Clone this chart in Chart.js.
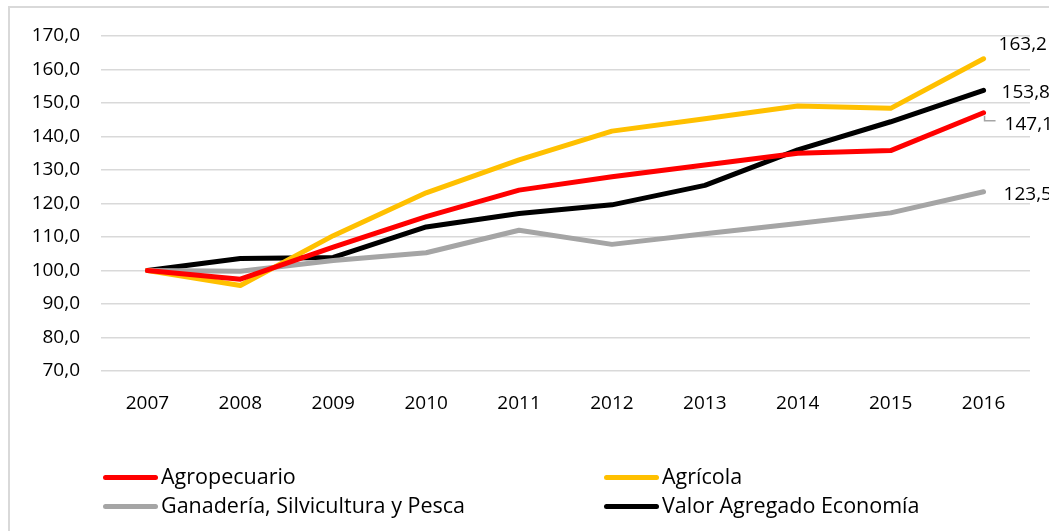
<!DOCTYPE html>
<html>
<head>
<meta charset="utf-8">
<script src="https://cdn.jsdelivr.net/npm/chart.js@4/dist/chart.umd.min.js"></script>
<style>
  html, body { margin: 0; padding: 0; background: #fff; }
  #wrap { position: relative; width: 1049px; height: 531px; overflow: hidden; }
  #frame { position: absolute; left: 8px; top: 6px; width: 1100px; height: 600px; border-left: 2px solid #d9d9d9; border-top: 2px solid #d9d9d9; box-sizing: border-box; }
  canvas { position: absolute; left: 0; top: 0; }
  .leg { position: absolute; font-family: "Open Sans", sans-serif; font-size: 21.5px; color: #000; white-space: nowrap; line-height: 1; }
</style>
</head>
<body>
<div id="wrap">
  <div id="frame"></div>
  <canvas id="c" width="1049" height="531"></canvas>
  <div id="legend"></div>
</div>
<script>
const categories = ["2007","2008","2009","2010","2011","2012","2013","2014","2015","2016"];
const seriesNames = ["Agropecuario","Agrícola","Ganadería, Silvicultura y Pesca","Valor Agregado Economía"];
const agropecuario = [100.0, 97.4, 107.0, 116.1, 124.0, 128.0, 131.5, 135.0, 135.8, 147.1];
const agricola     = [100.0, 95.5, 110.4, 123.2, 133.0, 141.6, 145.3, 149.1, 148.4, 163.2];
const ganaderia    = [100.0, 99.8, 103.0, 105.3, 112.0, 107.8, 111.0, 114.0, 117.2, 123.5];
const valorAgregado= [100.0, 103.6, 103.9, 113.0, 117.0, 119.6, 125.4, 136.0, 144.4, 153.8];
const colors = ["#FF0000","#FFC000","#A5A5A5","#000000"];
const yTicks = [70,80,90,100,110,120,130,140,150,160,170];

const seriesData = [agropecuario, agricola, ganaderia, valorAgregado];
const fmt = v => v.toFixed(1).replace('.', ',');

// end labels: offsets relative to last point
const endLabelOffsets = [[21, 12], [15, -14], [20, 3], [18, 2]];

const endLabels = {
  id: 'endLabels',
  afterDatasetsDraw(chart) {
    const ctx = chart.ctx;
    ctx.save();
    ctx.font = '19px "Open Sans", sans-serif';
    ctx.fillStyle = '#000';
    ctx.textBaseline = 'middle';
    ctx.textAlign = 'left';
    chart.data.datasets.forEach((ds, i) => {
      const meta = chart.getDatasetMeta(i);
      const pt = meta.data[meta.data.length - 1];
      const v = ds.data[ds.data.length - 1];
      const [dx, dy] = endLabelOffsets[i];
      if (i === 0) {
        ctx.strokeStyle = '#A5A5A5';
        ctx.lineWidth = 1.5;
        ctx.beginPath();
        ctx.moveTo(pt.x + 1, pt.y + 3);
        ctx.lineTo(pt.x + 1, pt.y + 8);
        ctx.lineTo(pt.x + 12, pt.y + 8);
        ctx.stroke();
      }
      ctx.fillText(fmt(v), pt.x + dx, pt.y + dy);
    });
    ctx.restore();
  }
};

const chart = new Chart(document.getElementById('c'), {
  type: 'line',
  data: {
    labels: categories,
    datasets: seriesNames.map((n, i) => ({
      label: n,
      data: seriesData[i],
      borderColor: colors[i],
      backgroundColor: colors[i],
      borderWidth: 5,
      pointRadius: 0,
      pointHoverRadius: 0,
      tension: 0,
      borderCapStyle: 'round',
      borderJoinStyle: 'round',
      fill: false
    }))
  },
  options: {
    responsive: false,
    animation: false,
    events: [],
    layout: { padding: { left: 0, right: 19, top: 36, bottom: 100 } },
    plugins: { legend: { display: false }, tooltip: { enabled: false } },
    scales: {
      x: {
        offset: true,
        grid: { display: false, drawTicks: false },
        border: { display: false },
        ticks: { color: '#000', font: { family: '"Open Sans", sans-serif', size: 19 }, padding: 21, maxRotation: 0 },
        afterFit(s) { s.height = 60; }
      },
      y: {
        min: 70, max: 170,
        afterBuildTicks(s) { s.ticks = yTicks.map(v => ({ value: v })); },
        grid: { color: '#d9d9d9', lineWidth: 1.5, drawTicks: false },
        border: { display: false },
        ticks: { color: '#000', font: { family: '"Open Sans", sans-serif', size: 19 }, padding: 21, callback: v => fmt(v) },
        afterFit(s) { s.width = 101; }
      }
    }
  },
  plugins: [endLabels]
});

// legend (two columns, built from series arrays)
const legendPos = [[103, 477], [604, 477], [103, 506], [604, 506]];
const legendEl = document.getElementById('legend');
seriesNames.forEach((n, i) => {
  const [x, y] = legendPos[i];
  const line = document.createElement('div');
  line.style.position = 'absolute';
  line.style.left = x + 'px'; line.style.top = (y - 2.5) + 'px'; line.style.width = '55px';
  line.style.height = '5px'; line.style.borderRadius = '3px';
  line.style.background = colors[i];
  legendEl.appendChild(line);
  const t = document.createElement('div');
  t.className = 'leg';
  t.textContent = n;
  t.style.left = (x + 58) + 'px';
  t.style.top = (y - 12) + 'px';
  legendEl.appendChild(t);
});
</script>
</body>
</html>
